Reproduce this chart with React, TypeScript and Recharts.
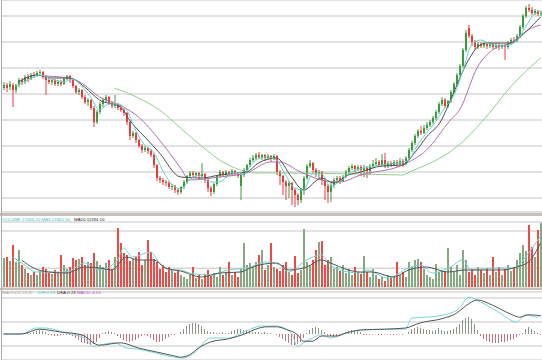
import React from 'react';
import { ComposedChart, Bar, Line, XAxis, YAxis, CartesianGrid, Cell } from 'recharts';

// candles (price units)
const opens = [
  16.2, 16.5, 16.3, 16.5, 16.0, 16.5, 17.0, 16.8, 17.3, 17.1,
  17.5, 17.4, 17.7, 17.8, 17.3, 17.0, 16.8, 17.0, 16.6, 16.8,
  16.6, 17.1, 17.4, 17.0, 16.4, 15.8, 16.0, 15.3, 14.8, 15.0,
  14.2, 12.8, 13.8, 14.6, 15.0, 15.3, 14.7, 14.4, 14.6, 14.2,
  14.0, 13.7, 12.8, 11.4, 11.7, 11.0, 10.4, 10.0, 10.2, 9.9,
  9.5, 8.5, 7.2, 7.0, 6.8, 6.7, 6.3, 6.4, 6.0, 5.8,
  6.3, 6.8, 7.4, 7.7, 7.5, 7.7, 7.4, 7.6, 7.0, 6.2,
  5.8, 6.6, 7.4, 7.8, 7.5, 7.8, 7.6, 7.9, 7.7, 6.4,
  7.5, 8.0, 8.5, 9.0, 9.2, 9.5, 9.3, 9.5, 9.2, 9.4,
  9.1, 9.4, 7.8, 7.4, 6.8, 6.4, 6.7, 6.0, 5.5, 5.0,
  6.0, 7.2, 8.4, 8.7, 8.0, 7.6, 7.8, 7.0, 6.4, 5.8,
  6.5, 7.0, 7.2, 6.9, 7.3, 7.8, 8.2, 8.4, 8.1, 8.3,
  8.0, 8.2, 7.9, 8.4, 8.6, 8.8, 8.5, 9.0, 8.4, 8.7,
  8.5, 8.8, 8.6, 8.9, 8.6, 9.2, 10.0, 10.7, 11.4, 11.9,
  11.7, 12.2, 12.5, 12.8, 13.2, 13.8, 14.6, 15.0, 14.4, 14.9,
  15.8, 16.6, 17.5, 18.4, 20.0, 22.2, 21.4, 20.8, 20.3, 20.6,
  20.4, 20.6, 20.4, 20.6, 20.3, 20.5, 20.3, 20.5, 20.3, 20.7,
  21.0, 20.9, 21.4, 22.3, 23.4, 24.2, 24.0, 23.7, 23.9, 23.6,
];
const closes = [
  16.5, 16.2, 16.6, 16.0, 16.5, 17.0, 16.8, 17.3, 17.1, 17.5,
  17.4, 17.7, 17.8, 17.3, 17.0, 16.8, 17.0, 16.6, 16.8, 16.6,
  17.1, 17.4, 17.0, 16.4, 15.8, 16.0, 15.3, 14.8, 15.0, 14.2,
  12.8, 13.8, 14.6, 15.0, 15.3, 14.7, 14.4, 14.6, 14.2, 14.0,
  13.7, 12.8, 11.4, 11.7, 11.0, 10.4, 10.0, 10.2, 9.9, 9.5,
  8.5, 7.2, 7.0, 6.8, 6.7, 6.3, 6.4, 6.0, 5.8, 6.3,
  6.8, 7.4, 7.7, 7.5, 7.7, 7.4, 7.6, 7.0, 6.2, 5.8,
  6.6, 7.4, 7.8, 7.5, 7.8, 7.6, 7.9, 7.7, 7.4, 7.5,
  8.0, 8.5, 9.0, 9.2, 9.5, 9.3, 9.5, 9.2, 9.4, 9.1,
  9.4, 7.8, 7.4, 6.8, 6.4, 6.7, 6.0, 5.5, 5.0, 6.0,
  7.2, 8.4, 8.7, 8.0, 7.6, 7.8, 7.0, 6.4, 5.8, 6.5,
  7.0, 7.2, 6.9, 7.3, 7.8, 8.2, 8.4, 8.1, 8.3, 8.0,
  8.2, 7.9, 8.4, 8.6, 8.8, 8.5, 9.0, 8.4, 8.7, 8.5,
  8.8, 8.6, 8.9, 8.6, 9.2, 10.0, 10.7, 11.4, 11.9, 11.7,
  12.2, 12.5, 12.8, 13.2, 13.8, 14.6, 15.0, 14.4, 14.9, 15.8,
  16.6, 17.5, 18.4, 20.0, 21.7, 21.4, 20.8, 20.3, 20.6, 20.4,
  20.6, 20.4, 20.6, 20.3, 20.5, 20.3, 20.5, 20.3, 20.7, 21.0,
  20.9, 21.4, 22.3, 23.4, 24.2, 24.0, 23.7, 23.9, 23.6, 23.7,
];
const highs = [
  16.8, 16.7, 16.9, 16.7, 16.6, 17.2, 17.2, 17.5, 17.6, 17.7,
  17.8, 17.9, 18.0, 17.9, 17.5, 17.2, 17.1, 17.1, 17.0, 17.0,
  17.2, 17.5, 17.5, 17.1, 16.5, 16.2, 16.1, 15.5, 15.2, 15.1,
  14.4, 14.0, 14.8, 15.2, 15.5, 15.4, 14.9, 15.5, 14.7, 14.4,
  14.2, 13.8, 12.9, 11.9, 11.8, 11.1, 10.6, 10.4, 10.3, 10.1,
  9.7, 8.6, 7.4, 7.2, 7.0, 6.9, 6.6, 6.5, 6.2, 6.4,
  7.0, 7.5, 7.9, 7.9, 7.8, 7.8, 8.7, 7.7, 7.2, 6.4,
  6.7, 7.5, 8.0, 7.9, 8.0, 7.9, 8.1, 8.0, 7.8, 7.7,
  8.2, 8.6, 9.2, 9.5, 9.7, 9.8, 9.6, 9.6, 9.6, 9.5,
  9.6, 9.5, 8.0, 7.5, 7.0, 6.9, 6.8, 6.2, 5.7, 6.2,
  7.4, 8.6, 9.0, 8.8, 8.2, 8.0, 7.9, 7.2, 6.6, 6.7,
  7.2, 7.4, 7.4, 7.5, 8.0, 8.4, 8.6, 8.5, 8.5, 8.5,
  8.5, 8.4, 8.6, 9.0, 9.2, 9.0, 9.6, 9.7, 8.9, 8.9,
  9.0, 9.0, 9.2, 9.1, 9.4, 10.2, 10.9, 11.6, 12.1, 12.4,
  12.5, 12.8, 13.0, 13.4, 14.0, 14.8, 15.3, 15.2, 15.0, 16.0,
  16.8, 17.7, 18.6, 20.2, 22.0, 22.5, 21.6, 21.0, 20.8, 20.8,
  20.8, 20.7, 20.8, 20.7, 20.7, 20.7, 20.6, 20.6, 20.9, 21.2,
  21.3, 21.6, 22.5, 23.6, 24.4, 24.6, 24.3, 24.1, 24.0, 23.9,
];
const lows = [
  16.0, 15.8, 16.0, 14.3, 15.7, 16.3, 16.5, 16.6, 16.8, 17.0,
  17.2, 17.3, 17.5, 17.1, 15.5, 16.6, 16.5, 16.4, 16.4, 16.4,
  16.5, 17.0, 16.7, 16.2, 15.6, 15.5, 15.1, 14.6, 14.4, 14.0,
  12.3, 12.6, 13.6, 14.3, 14.7, 14.5, 14.2, 14.2, 14.0, 13.8,
  13.4, 12.5, 11.0, 11.2, 10.7, 10.2, 9.7, 9.8, 9.6, 9.3,
  8.2, 6.9, 6.7, 6.5, 6.4, 6.1, 6.0, 5.7, 5.5, 5.6,
  6.1, 6.6, 7.2, 7.2, 7.3, 7.1, 7.2, 6.7, 5.8, 5.4,
  5.6, 6.4, 7.2, 7.3, 7.2, 7.4, 7.5, 7.5, 7.2, 5.0,
  7.3, 7.8, 8.3, 8.8, 9.0, 9.1, 9.0, 8.9, 9.0, 8.8,
  9.0, 7.5, 6.5, 5.5, 5.0, 5.2, 4.5, 4.3, 4.5, 4.7,
  5.5, 7.0, 8.2, 7.7, 7.3, 7.2, 6.5, 5.0, 4.7, 4.8,
  6.2, 6.7, 6.6, 6.8, 7.2, 7.6, 8.0, 7.8, 7.9, 7.4,
  7.3, 7.2, 7.5, 8.2, 8.4, 8.3, 8.3, 8.2, 8.2, 8.3,
  8.4, 8.3, 8.5, 8.3, 8.5, 9.0, 9.8, 10.5, 11.2, 11.5,
  11.6, 12.0, 12.3, 12.6, 13.0, 13.6, 14.4, 14.2, 14.2, 14.7,
  15.6, 16.4, 17.3, 18.2, 19.8, 21.2, 20.4, 20.0, 20.1, 20.2,
  20.2, 20.1, 20.2, 20.1, 20.1, 20.0, 20.1, 19.0, 20.1, 20.5,
  20.7, 20.8, 21.2, 22.1, 23.2, 23.8, 23.5, 23.5, 23.4, 23.4,
];

// moving averages, sampled along the drawn lines: [bar, value]
const ma5Pts = [
  [4, 16.4], [8, 17.0], [12, 17.5], [16, 17.1], [20, 16.8], [23, 17.1], [26, 16.4], [29, 15.3],
  [32, 14.0], [35, 14.6], [38, 14.6], [41, 14.0], [44, 12.0], [47, 10.5], [50, 9.8], [53, 8.0],
  [56, 6.6], [59, 6.1], [62, 7.0], [65, 7.5], [69, 6.8], [72, 6.8], [76, 7.7], [80, 7.6],
  [83, 8.7], [87, 9.3], [91, 9.0], [94, 7.5], [97, 6.2], [100, 6.0], [103, 7.6], [106, 7.6],
  [109, 6.4], [112, 6.8], [116, 7.8], [120, 8.2], [124, 8.4], [128, 8.6], [132, 8.7], [135, 9.0],
  [138, 10.5], [141, 11.7], [144, 12.8], [147, 14.2], [150, 15.4], [153, 17.8], [156, 20.5],
  [159, 21.0], [163, 20.5], [167, 20.4], [171, 20.9], [174, 22.3], [177, 23.6], [179, 23.9],
];
const ma10Pts = [
  [5, 16.8], [11, 17.5], [16, 17.2], [22, 17.2], [27, 16.3], [32, 15.0], [39, 14.3], [42, 13.0],
  [49, 10.7], [52, 9.7], [59, 7.3], [66, 7.2], [72, 7.5], [81, 7.8], [85, 8.7], [91, 9.2],
  [96, 7.3], [100, 6.0], [106, 7.2], [110, 6.7], [115, 7.5], [119, 7.8], [126, 8.4], [133, 8.5],
  [137, 9.7], [141, 11.3], [146, 13.0], [149, 15.0], [155, 19.0], [158, 20.3], [161, 20.7],
  [169, 20.7], [174, 21.8], [179, 23.3],
];
const ma20Pts = [
  [13, 17.4], [22, 17.2], [26, 16.7], [32, 15.3], [40, 14.3], [45, 13.3], [52, 11.0], [59, 8.2],
  [62, 7.0], [72, 7.3], [81, 7.7], [89, 8.8], [92, 8.8], [99, 7.8], [106, 7.0], [112, 6.8],
  [119, 7.5], [133, 8.5], [141, 10.0], [149, 13.0], [152, 14.0], [158, 18.3], [163, 20.0],
  [169, 20.7], [176, 22.2], [179, 22.5],
];
const ma60Pts = [
  [37, 16.2], [45, 15.2], [52, 14.0], [59, 12.2], [66, 10.4], [72, 9.0], [79, 8.0], [84, 7.7],
  [92, 7.7], [119, 7.6], [133, 7.5], [136, 7.9], [143, 8.8], [151, 10.3], [160, 13.0],
  [169, 16.3], [179, 19.2],
];

const volumes = [
  7250, 7500, 6500, 10500, 6250, 9250, 5500, 4500, 3500, 3000,
  3750, 3000, 4000, 5000, 4500, 3500, 3250, 4250, 3750, 8000,
  5500, 4500, 5000, 7250, 6750, 7000, 7500, 5500, 6250, 6000,
  8500, 6500, 5500, 5000, 6000, 6750, 4500, 7500, 14750, 11000,
  8500, 8000, 6500, 7000, 7500, 8750, 5500, 6750, 11750, 8750,
  7000, 6250, 4500, 5500, 3750, 5000, 4250, 3500, 4000, 3000,
  2500, 2000, 3000, 5000, 2250, 3000, 2000, 3250, 4250, 2750,
  3500, 2500, 5000, 3000, 3750, 6250, 3000, 3750, 2500, 4500,
  11000, 5500, 6000, 5000, 6250, 8000, 9250, 4250, 5500, 11000,
  5000, 4500, 4000, 5500, 6250, 3750, 3000, 7750, 3500, 4250,
  14500, 6250, 5500, 6750, 9250, 11250, 11500, 5500, 6750, 7500,
  4500, 5000, 4000, 5500, 3500, 4500, 3000, 5000, 3750, 3250,
  7750, 3750, 2500, 4500, 3000, 2000, 2500, 1500, 3000, 2250,
  2750, 6250, 3000, 3750, 2500, 6250, 5000, 6750, 7000, 6250,
  4500, 3000, 2500, 2000, 5750, 3750, 4250, 4000, 9750, 5000,
  3750, 5500, 3000, 9250, 6750, 3750, 4500, 3000, 5000, 4250,
  3500, 4750, 3000, 7500, 3750, 5000, 3000, 4500, 5500, 4000,
  5000, 6750, 8500, 10500, 9000, 15500, 10000, 7500, 14250, 16000,
];
const volMa5Pts = [
  [3, 7500], [6, 6000], [11, 3750], [21, 3750], [27, 6000], [32, 4250], [38, 6750], [40, 9750],
  [43, 7500], [49, 8750], [52, 6000], [56, 4250], [59, 4250], [62, 3500], [69, 3000], [75, 4250],
  [81, 4750], [88, 6250], [92, 5500], [95, 3750], [101, 6750], [106, 8000], [109, 5500],
  [115, 3750], [119, 3500], [121, 4250], [128, 2250], [135, 4750], [139, 5500], [143, 3500],
  [149, 5000], [153, 6750], [156, 4250], [163, 4750], [170, 4750], [175, 8500], [179, 12750],
];
const volMa10Pts = [
  [6, 6750], [10, 4750], [15, 3750], [21, 3500], [27, 5000], [32, 4750], [36, 4250], [41, 7500],
  [45, 6750], [50, 6750], [54, 4750], [59, 4000], [66, 2500], [72, 3500], [79, 3750], [83, 5000],
  [91, 6000], [95, 4250], [101, 5000], [106, 6750], [109, 6000], [115, 4250], [119, 3750],
  [123, 3750], [130, 2500], [135, 4250], [141, 5000], [148, 3750], [154, 4250], [159, 4250],
  [166, 4250], [171, 5000], [175, 6250], [179, 11000],
];

const macdHist = [
  0.006, 0.006, 0, -0.006, 0, 0.006, 0.006, 0.013, 0.013, 0.013,
  0.025, 0.038, 0.05, 0.038, 0.025,
  -0.013, -0.019, -0.025, -0.025, -0.019, -0.013, -0.013,
  -0.013, -0.025, -0.05, -0.075, -0.1, -0.113, -0.125, -0.138, -0.125, -0.1, -0.05, 0.013, 0.025, 0.038, 0.025, 0.013,
  -0.025, -0.05, -0.075, -0.088, -0.1, -0.088, -0.075, -0.05, -0.025, -0.013, -0.025,
  -0.05, -0.075, -0.1, -0.1, -0.088, -0.063, -0.038, -0.013,
  -0.013, 0,
  0.025, 0.063, 0.1, 0.125, 0.138, 0.138, 0.125, 0.1, 0.063, 0.038,
  0.025, 0.025, 0.013, 0.013, 0.025, 0.013, 0.013,
  0.038, 0.05, 0.063, 0.063, 0.05, 0.05, 0.038, 0.025,
  0.025, 0.025, 0.013, 0.025, 0.013, 0.013, 0, -0.013,
  -0.038, -0.063, -0.088, -0.113, -0.138, -0.138, -0.125, -0.1, -0.05,
  0.013, 0.05, 0.075, 0.088, 0.075, 0.05, 0.025,
  -0.013, -0.025, -0.038, -0.025, -0.013,
  0.013, 0.025, 0.038, 0.05, 0.038, 0.038, 0.025,
  -0.013, -0.013, -0.013, -0.006, -0.006, -0.013, -0.013, -0.006, -0.006, -0.013, -0.013, -0.006, -0.006, -0.013, 0, 0.025,
  0.063, 0.075, 0.088, 0.075, 0.063, 0.05, 0.05,
  0.038, 0.05, 0.075, 0.05, 0.038, 0.038, 0.05, 0.063, 0.088,
  0.125, 0.175, 0.2, 0.213, 0.188, 0.125, 0.05,
  -0.025, -0.063, -0.088, -0.1, -0.113, -0.113, -0.113, -0.1, -0.1, -0.088, -0.075, -0.063, -0.038, -0.013, 0.013,
  0.063, 0.088, 0.063, 0.038, 0.013, -0.013,
];
const difPts = [
  [0, 0], [6, 0], [11, 0.075], [14, 0.075], [21, 0.01], [27, -0.05], [30, -0.16], [32, -0.14],
  [37, -0.11], [41, -0.175], [45, -0.19], [51, -0.24], [57, -0.29], [60, -0.3], [64, -0.225],
  [69, -0.05], [75, -0.05], [81, 0.04], [86, 0.1], [91, 0.1], [96, 0.01], [98, -0.16],
  [100, -0.11], [103, -0.05], [106, -0.01], [109, -0.05], [114, 0.01], [119, 0.05], [127, 0.06],
  [134, 0.06], [136, 0.2], [141, 0.21], [147, 0.24], [152, 0.325], [155, 0.46], [159, 0.4],
  [165, 0.275], [171, 0.15], [174, 0.24], [178, 0.21], [179, 0.23],
];
const deaPts = [
  [0, 0], [6, 0], [12, 0.06], [19, 0.025], [26, -0.01], [32, -0.14], [39, -0.11], [45, -0.175],
  [51, -0.225], [57, -0.275], [59, -0.29], [62, -0.26], [65, -0.175], [69, -0.1], [75, -0.06],
  [81, 0.01], [84, 0.06], [88, 0.09], [91, 0.09], [94, 0.06], [98, -0.01], [100, -0.09],
  [103, -0.09], [106, -0.025], [111, -0.025], [114, 0.01], [119, 0.05], [127, 0.06], [134, 0.075],
  [139, 0.14], [146, 0.19], [151, 0.26], [154, 0.35], [158, 0.425], [163, 0.36], [169, 0.25],
  [172, 0.21], [175, 0.24], [179, 0.23],
];

const priceTicks = [5.2, 7.8, 10.4, 13.0, 15.6, 18.2, 20.8, 23.4];
const volTicks = [4667, 9333, 14000];
const macdTicks = [-0.15, 0, 0.15, 0.3, 0.45];

const RED = '#ec3b3b';
const GREEN = '#3d9a3d';
const GRID = '#d8d8d8';
const W = 542;

const spread = (pts: number[][]) => {
  const out: (number | null)[] = opens.map(() => null);
  pts.forEach(([i, v]) => { out[i] = v; });
  return out;
};

const ma5 = spread(ma5Pts);
const ma10 = spread(ma10Pts);
const ma20 = spread(ma20Pts);
const ma60 = spread(ma60Pts);
const vma5 = spread(volMa5Pts);
const vma10 = spread(volMa10Pts);
const dif = spread(difPts);
const dea = spread(deaPts);

const rows = opens.map((open, i) => ({
  i,
  open,
  close: closes[i],
  high: highs[i],
  low: lows[i],
  range: [lows[i], highs[i]],
  up: closes[i] >= open,
  ma5: ma5[i],
  ma10: ma10[i],
  ma20: ma20[i],
  ma60: ma60[i],
  vol: volumes[i],
  vma5: vma5[i],
  vma10: vma10[i],
  hist: macdHist[i],
  dif: dif[i],
  dea: dea[i],
}));

const Candle = (props: any) => {
  const { x, y, width, height, payload } = props;
  if (!payload) return null;
  const { open, close, high, low } = payload;
  const top = Math.min(y, y + height);
  const span = Math.abs(height);
  const toY = (v: number) => top + (high === low ? 0 : ((high - v) / (high - low)) * span);
  const color = close >= open ? GREEN : RED;
  const bodyTop = toY(Math.max(open, close));
  const bodyH = Math.max(1, toY(Math.min(open, close)) - bodyTop);
  const cx = x + width / 2;
  return (
    <g>
      <rect x={cx - 0.5} y={top} width={1} height={Math.max(span, 1)} fill={color} />
      <rect x={cx - 1} y={bodyTop} width={2} height={bodyH} fill={color} />
    </g>
  );
};

const lineProps = {
  type: 'monotone' as const,
  dot: false,
  connectNulls: true,
  isAnimationActive: false,
  strokeWidth: 1,
  activeDot: false,
};

const sep: React.CSSProperties = { position: 'absolute', left: 0, width: W, background: '#c9c0ba' };

export default function App() {
  return (
    <div style={{ position: 'absolute', left: 0, top: 0, width: W, height: 360, background: '#fff', overflow: 'hidden' }}>
      <div style={{ position: 'absolute', left: 0, top: 0 }}>
        <ComposedChart width={W} height={214} data={rows} margin={{ top: 0, right: 0, bottom: 2, left: 2 }}>
          <CartesianGrid vertical={false} stroke={GRID} strokeWidth={1.5} />
          <XAxis dataKey="i" hide />
          <YAxis hide domain={[3.8, 25]} ticks={priceTicks} allowDataOverflow />
          <Bar dataKey="range" barSize={2} shape={<Candle />} isAnimationActive={false} />
          <Line dataKey="ma60" stroke="#8fd08f" {...lineProps} />
          <Line dataKey="ma20" stroke="#b070b0" {...lineProps} />
          <Line dataKey="ma10" stroke="#505050" {...lineProps} />
          <Line dataKey="ma5" stroke="#62d4cf" {...lineProps} />
        </ComposedChart>
      </div>
      <div style={{ ...sep, top: 213, height: 3 }} />
      <div style={{ position: 'absolute', left: 0, top: 216 }}>
        <ComposedChart width={W} height={72} data={rows} margin={{ top: 6, right: 0, bottom: 1, left: 2 }}>
          <CartesianGrid vertical={false} stroke={GRID} strokeWidth={1.5} />
          <XAxis dataKey="i" hide />
          <YAxis hide domain={[0, 16250]} ticks={volTicks} allowDataOverflow />
          <Bar dataKey="vol" barSize={2} isAnimationActive={false}>
            {rows.map((r) => (
              <Cell key={r.i} fill={r.up ? '#86a982' : '#f04a46'} />
            ))}
          </Bar>
          <Line dataKey="vma5" stroke="#6fd6d2" {...lineProps} />
          <Line dataKey="vma10" stroke="#555" {...lineProps} />
        </ComposedChart>
      </div>
      <div style={{ ...sep, top: 288, height: 2 }} />
      <div style={{ position: 'absolute', left: 0, top: 290 }}>
        <ComposedChart width={W} height={70} data={rows} margin={{ top: 2, right: 0, bottom: 0, left: 2 }}>
          <CartesianGrid vertical={false} stroke={GRID} strokeWidth={1.5} />
          <XAxis dataKey="i" hide />
          <YAxis hide domain={[-0.325, 0.525]} ticks={macdTicks} allowDataOverflow />
          <Bar dataKey="hist" barSize={1} isAnimationActive={false}>
            {rows.map((r) => (
              <Cell key={r.i} fill={r.hist >= 0 ? '#8a958a' : '#c8707e'} />
            ))}
          </Bar>
          <Line dataKey="dif" stroke="#7ad8d8" {...lineProps} />
          <Line dataKey="dea" stroke="#555" {...lineProps} />
        </ComposedChart>
      </div>
      <div style={{ position: 'absolute', left: 1, top: 0, width: 1, height: 360, background: '#a8a8a8' }} />
      <svg width={W} height={360} style={{ position: 'absolute', left: 0, top: 0, pointerEvents: 'none' }}>
        <g fontFamily="Liberation Sans, Arial, sans-serif" fontSize={4.4}>
          <text x={2} y={221} fill="#3cbfc8">VOLUME 17003.20 MA5:13360.50</text>
          <text x={74} y={221} fill="#222">MA10:11194.10</text>
          <text x={2} y={294} fill="#a8a8a8">MACD(12,26,9)</text>
          <text x={38} y={294} fill="#3cbfc8">DIF:0.23</text>
          <text x={57} y={294} fill="#222">DEA:0.23</text>
          <text x={77} y={294} fill="#c040c0">MACD:-0.01</text>
        </g>
      </svg>
    </div>
  );
}
